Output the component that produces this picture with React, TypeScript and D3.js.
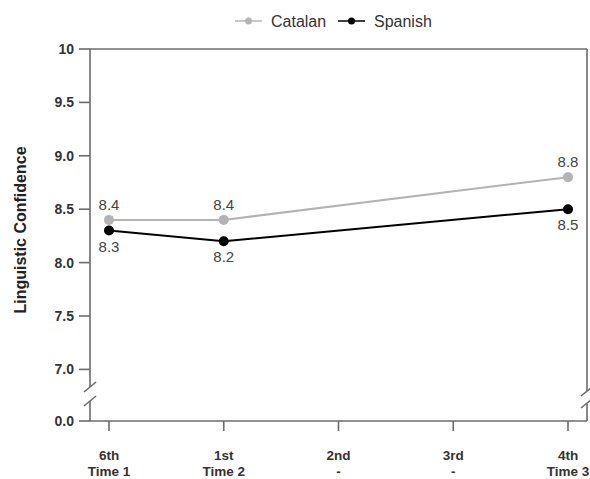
import React from 'react';
import * as d3 from 'd3';

const grades = ['6th', '1st', '2nd', '3rd', '4th'];
const times = ['Time 1', 'Time 2', '-', '-', 'Time 3'];
const catalan = [8.4, 8.4, null, null, 8.8];
const spanish = [8.3, 8.2, null, null, 8.5];
const yTicks = [10, 9.5, 9.0, 8.5, 8.0, 7.5, 7.0, 0.0];

const width = 590;
const height = 479;

const App = () => {
  // piecewise scale for the broken axis: 0 sits just below 7
  const y = d3.scaleLinear().domain([0, 7, 10]).range([421, 369.4, 49]);
  const x = d3.scaleLinear().domain([0, grades.length - 1]).range([109, 568]);
  const left = 90;
  const right = 587;
  const top = y(10);
  const bottom = y(0);

  const series = [
    { name: 'Catalan', values: catalan, color: '#b3b3b3', dy: -15 },
    { name: 'Spanish', values: spanish, color: '#000000', dy: 16 },
  ];

  const line = d3
    .line<{ i: number; v: number }>()
    .x(d => x(d.i))
    .y(d => y(d.v));

  const pts = (vals: (number | null)[]) =>
    vals.map((v, i) => ({ i, v })).filter(d => d.v !== null) as { i: number; v: number }[];

  const axisColor = '#6b6b6b';
  const font = 'Liberation Sans, Arial, sans-serif';
  const breakHi = 387;
  const breakLo = 401;

  return (
    <svg width={width} height={height} style={{ position: 'absolute', left: 0, top: 0, background: '#fff' }} fontFamily={font}>
      {/* legend */}
      <g>
        <line x1={235} x2={262} y1={21} y2={21} stroke="#b3b3b3" strokeWidth={1.5} />
        <circle cx={248.5} cy={21} r={3.5} fill="#b3b3b3" />
        <text x={271} y={21} dy="0.35em" fontSize={16} fill="#333">Catalan</text>
        <line x1={338} x2={365} y1={21} y2={21} stroke="#000" strokeWidth={1.5} />
        <circle cx={351.5} cy={21} r={3.5} fill="#000" />
        <text x={374} y={21} dy="0.35em" fontSize={16} fill="#333">Spanish</text>
      </g>

      {/* frame with axis breaks */}
      <g stroke={axisColor} strokeWidth={1.6} fill="none">
        <line x1={left} x2={right} y1={top} y2={top} />
        <line x1={left} x2={right} y1={bottom} y2={bottom} />
        <line x1={left} x2={left} y1={top} y2={breakHi} />
        <line x1={left} x2={left} y1={breakLo} y2={bottom} />
        <line x1={left - 6} x2={left + 6} y1={breakHi + 5} y2={breakHi - 5} />
        <line x1={left - 6} x2={left + 6} y1={breakLo + 5} y2={breakLo - 5} />
        <line x1={right} x2={right} y1={top} y2={breakHi + 4} />
        <line x1={right} x2={right} y1={breakLo + 3} y2={bottom} />
        <line x1={right - 6} x2={right + 4} y1={breakHi + 9} y2={breakHi + 1} />
        <line x1={right - 6} x2={right + 4} y1={breakLo + 7} y2={breakLo - 1} />
      </g>

      {/* y axis */}
      {yTicks.map(t => (
        <g key={t} transform={`translate(0,${y(t)})`}>
          <line x1={left - 11} x2={left} stroke={axisColor} strokeWidth={1.6} />
          <text x={left - 16} dy="0.35em" textAnchor="end" fontSize={14} fontWeight="bold" fill="#333">
            {t === 10 ? '10' : t.toFixed(1)}
          </text>
        </g>
      ))}
      <text
        transform={`translate(20,${230}) rotate(-90)`}
        textAnchor="middle"
        dy="0.35em"
        fontSize={16}
        fontWeight="bold"
        fill="#222"
      >
        Linguistic Confidence
      </text>

      {/* x axis */}
      {grades.map((g, i) => (
        <g key={g} transform={`translate(${x(i)},0)`}>
          <line y1={bottom} y2={bottom + 10} stroke={axisColor} strokeWidth={1.6} />
          <text y={455} dy="0.35em" textAnchor="middle" fontSize={13.5} fontWeight="bold" fill="#333">{g}</text>
          <text y={471} dy="0.35em" textAnchor="middle" fontSize={13.5} fontWeight="bold" fill="#333">{times[i]}</text>
        </g>
      ))}

      {/* series */}
      {series.map(s => (
        <g key={s.name}>
          <path d={line(pts(s.values)) || ''} fill="none" stroke={s.color} strokeWidth={2} />
          {pts(s.values).map(d => (
            <g key={d.i}>
              <circle cx={x(d.i)} cy={y(d.v)} r={5} fill={s.color} />
              <text x={x(d.i)} y={y(d.v) + s.dy} dy="0.35em" textAnchor="middle" fontSize={15} fill="#444">
                {d.v.toFixed(1)}
              </text>
            </g>
          ))}
        </g>
      ))}
    </svg>
  );
};

export default App;
